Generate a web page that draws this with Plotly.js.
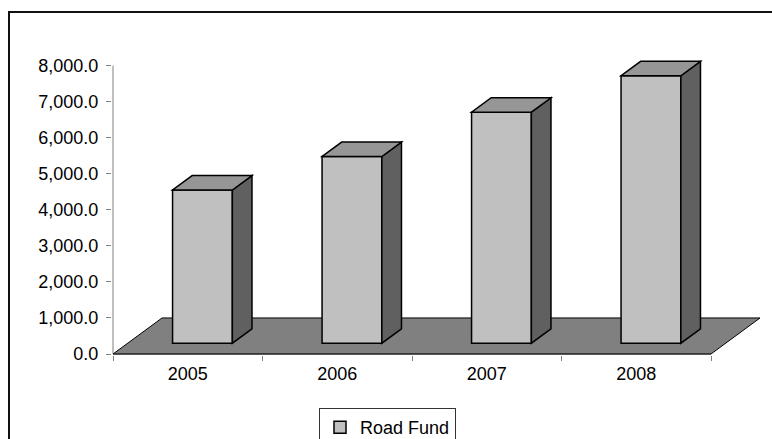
<!DOCTYPE html>
<html>
<head>
<meta charset="utf-8">
<script src="https://cdn.plot.ly/plotly-3.0.1.min.js"></script>
<style>
  html, body { margin: 0; padding: 0; background: #fff; overflow: hidden; }
  #wrap { position: relative; width: 772px; height: 439px; overflow: hidden; }
  #chart { position: absolute; left: 0; top: 0; width: 772px; height: 439px; }
  #frame { position: absolute; left: 8px; top: 11px; width: 820px; height: 520px;
           border: 2px solid #111; pointer-events: none; }
</style>
</head>
<body>
<div id="wrap">
  <div id="chart"></div>
  <div id="frame"></div>
</div>
<script>
// Road Fund by year
const years = ['2005', '2006', '2007', '2008'];
const roadFund = [4250, 5180, 6410, 7420];
const valueTicks = [0, 1000, 2000, 3000, 4000, 5000, 6000, 7000, 8000];

// 3-D look: floor depth expressed in axis units (x: category units, y: value units)
const floorDepthX = 0.328;
const floorDepthY = 1000;
const barWidth = 0.4;      // fraction of a category
const barDepthFrac = 0.4;  // fraction of the floor depth
const barFrontFrac = 0.3;  // where the bar's front face sits inside the floor depth

const colFront = '#C0C0C0';
const colTop = '#969696';
const colSide = '#606060';
const colFloor = '#808080';
const axisGray = '#808080';

const idx = years.map((_, i) => i);
const nCat = years.length;
const frontDx = barFrontFrac * floorDepthX;
const frontDy = barFrontFrac * floorDepthY;
const depthDx = barDepthFrac * floorDepthX;
const depthDy = barDepthFrac * floorDepthY;
const barOffset = -barWidth / 2 + frontDx;

function poly(pts) {
  return 'M' + pts.map(p => p[0] + ',' + p[1]).join('L') + 'Z';
}

const shapes = [];

// value axis line
shapes.push({ type: 'line', xref: 'x', yref: 'y', layer: 'below',
  x0: -0.5, x1: -0.5, y0: 0, y1: valueTicks[valueTicks.length - 1],
  line: { color: axisGray, width: 1 } });

// floor
shapes.push({ type: 'path', xref: 'x', yref: 'y', layer: 'below',
  path: poly([[-0.5, 0], [nCat - 0.5, 0], [nCat - 0.5 + floorDepthX, floorDepthY], [-0.5 + floorDepthX, floorDepthY]]),
  fillcolor: colFloor, line: { color: '#000', width: 1 } });

// category axis line along the floor's front edge
shapes.push({ type: 'line', xref: 'x', yref: 'y', layer: 'below',
  x0: -0.5, x1: nCat - 0.5, y0: 0, y1: 0,
  line: { color: '#303030', width: 1 } });

// top and side faces of each column
idx.forEach((i) => {
  const x0 = i + barOffset;
  const x1 = x0 + barWidth;
  const b = frontDy;
  const t = frontDy + roadFund[i];
  shapes.push({ type: 'path', xref: 'x', yref: 'y', layer: 'above',
    path: poly([[x1, b], [x1, t], [x1 + depthDx, t + depthDy], [x1 + depthDx, b + depthDy]]),
    fillcolor: colSide, line: { color: '#000', width: 1.5 } });
  shapes.push({ type: 'path', xref: 'x', yref: 'y', layer: 'above',
    path: poly([[x0, t], [x1, t], [x1 + depthDx, t + depthDy], [x0 + depthDx, t + depthDy]]),
    fillcolor: colTop, line: { color: '#000', width: 1.5 } });
});

const font = { family: 'Arial, "Liberation Sans", sans-serif', size: 18, color: '#000' };

const trace = {
  type: 'bar',
  name: 'Road Fund',
  x: idx,
  y: roadFund,
  base: frontDy,
  width: barWidth,
  offset: barOffset,
  marker: { color: colFront, line: { color: '#000', width: 1.5 } },
  hoverinfo: 'skip',
  showlegend: true
};

// scales: 149.5 px per category, 36.04 px per 1000
const pxPerCat = 149.5;
const pxPerVal = 0.03604;
const mL = 112, mR = 2, mT = 40, mB = 84;
const plotW = 772 - mL - mR;
const plotH = 439 - mT - mB;
const xStart = -0.5 - 1 / pxPerCat;
const yStart = -1 / pxPerVal;

const layout = {
  width: 772, height: 439,
  margin: { l: mL, r: mR, t: mT, b: mB, pad: 0, autoexpand: false },
  paper_bgcolor: '#fff', plot_bgcolor: '#fff',
  font: font,
  showlegend: true,
  bargap: 0,
  xaxis: {
    type: 'linear',
    range: [xStart, xStart + plotW / pxPerCat],
    tickmode: 'array', tickvals: idx, ticktext: years,
    ticks: '', showgrid: false, zeroline: false, showline: false,
    ticklabelstandoff: 6,
    minor: { tickmode: 'array', tickvals: idx.concat([nCat]).map(v => v - 0.5),
             ticks: 'outside', ticklen: 5, tickwidth: 1, tickcolor: axisGray, showgrid: false },
    fixedrange: true
  },
  yaxis: {
    range: [yStart, yStart + plotH / pxPerVal],
    tickmode: 'array', tickvals: valueTicks, tickformat: ',.1f',
    ticks: 'outside', ticklen: 5, tickwidth: 1, tickcolor: axisGray,
    showgrid: false, zeroline: false, showline: false,
    ticklabelstandoff: 4,
    fixedrange: true
  },
  legend: {
    orientation: 'h',
    x: (319 - mL) / plotW, xanchor: 'left',
    y: (355 - 408) / plotH, yanchor: 'top',
    bgcolor: '#fff', bordercolor: '#333', borderwidth: 1,
    font: font
  },
  shapes: shapes
};

Plotly.newPlot('chart', [trace], layout, { displayModeBar: false, staticPlot: true });
</script>
</body>
</html>
